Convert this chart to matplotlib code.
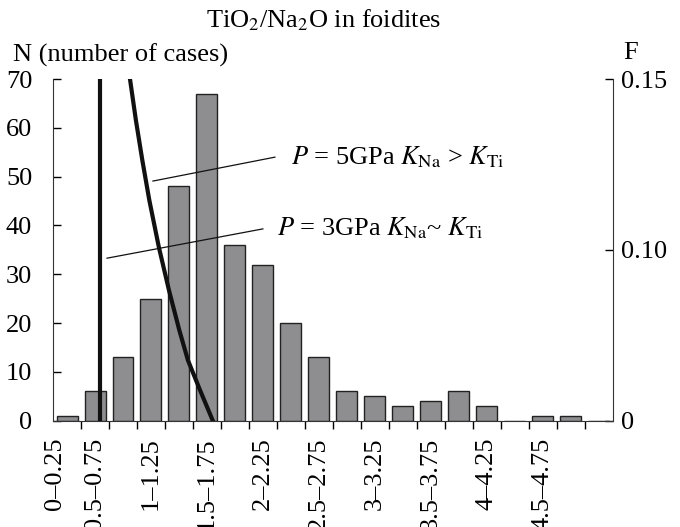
import numpy as np
import matplotlib
matplotlib.use("Agg")
import matplotlib.pyplot as plt

plt.rcParams['font.family'] = ['Liberation Serif', 'DejaVu Serif']
plt.rcParams['mathtext.fontset'] = 'stix'

# histogram: number of cases per TiO2/Na2O bin (bin width 0.25)
counts = [1, 6, 13, 25, 48, 67, 36, 32, 20, 13, 6, 5, 3, 4, 6, 3, 0, 1, 1, 0]
bin_labels = ['0\u20130.25', '0.5\u20130.75', '1\u20131.25', '1.5\u20131.75', '2\u20132.25',
              '2.5\u20132.75', '3\u20133.25', '3.5\u20133.75', '4\u20134.25', '4.5\u20134.75']
label_pos = [-0.43, 1, 3, 5, 7, 9, 11, 13, 15, 17]

# model curves (in bin units / N units)
p3_x = [1.18, 1.18]
p3_n = [0, 70]
p5_x = [2.25, 2.46, 2.69, 2.94, 3.28, 3.64, 4.01, 4.32, 4.75, 5.21]
p5_n = [70.0, 61.6, 53.4, 45.2, 35.6, 26.8, 18.6, 12.4, 6.3, 0.0]

# right axis F: piecewise mapping N -> F
f_ticks = [0, 0.10, 0.15]
n_marks = [0, 35, 70]

FS = 19

fig = plt.figure(figsize=(6.8, 5.27), dpi=100)
ax = fig.add_axes([0.078, 0.2017, 0.823, 0.6483])

x = np.arange(len(counts))
ax.bar(x, counts, width=0.75, color='#8e8e90', edgecolor='#222222', linewidth=1.0, zorder=2)

ax.plot(p3_x, p3_n, color='#111111', lw=3.0, zorder=3)
ax.plot(p5_x, p5_n, color='#111111', lw=3.0, zorder=3, solid_joinstyle='round')

# annotation leaders
ax.plot([3.07, 7.43], [49.1, 54.0], color='#111111', lw=0.9, zorder=4)
ax.plot([1.43, 7.0], [33.3, 39.3], color='#111111', lw=0.9, zorder=4)
ax.text(8.0, 54.0, r'$P$ = 5GPa $K_{\mathrm{Na}}$ > $K_{\mathrm{Ti}}$', fontsize=FS,
        va='center', ha='left')
ax.text(7.5, 39.5, r'$P$ = 3GPa $K_{\mathrm{Na}}$~ $K_{\mathrm{Ti}}$', fontsize=FS,
        va='center', ha='left')

ax.set_xlim(-0.5, len(counts) - 0.5)
ax.set_ylim(0, 70)
ax.set_yticks(range(0, 71, 10))
ax.tick_params(axis='y', direction='in', length=6, width=1, pad=15, labelsize=FS)

ax.set_xticks(np.arange(0.5, len(counts) - 0.5, 1.0))
ax.set_xticklabels([])
ax.tick_params(axis='x', which='major', direction='out', length=6, width=1)
ax.set_xticks(label_pos, minor=True)
ax.set_xticklabels(bin_labels, minor=True, rotation=90, va='top', ha='center')
ax.tick_params(axis='x', which='minor', length=0, pad=12, labelsize=FS)

for s in ['top', 'right']:
    ax.spines[s].set_visible(False)
for s in ['left', 'bottom']:
    ax.spines[s].set_color('#333333')

sec = ax.secondary_yaxis('right', functions=(lambda n: np.interp(n, n_marks, f_ticks),
                                              lambda f: np.interp(f, f_ticks, n_marks)))
sec.set_yticks(f_ticks)
sec.set_yticklabels(['0', '0.10', '0.15'])
sec.tick_params(direction='in', length=6, width=1, pad=6, labelsize=FS)
sec.spines['right'].set_color('#333333')

fig.text(0.476, 0.962, r'TiO$_2$/Na$_2$O in foidites', fontsize=FS, ha='center', va='center')
fig.text(0.019, 0.896, 'N (number of cases)', fontsize=FS, ha='left', va='center')
fig.text(0.916, 0.899, 'F', fontsize=FS, ha='left', va='center')

fig.savefig('out.png', dpi=100)
